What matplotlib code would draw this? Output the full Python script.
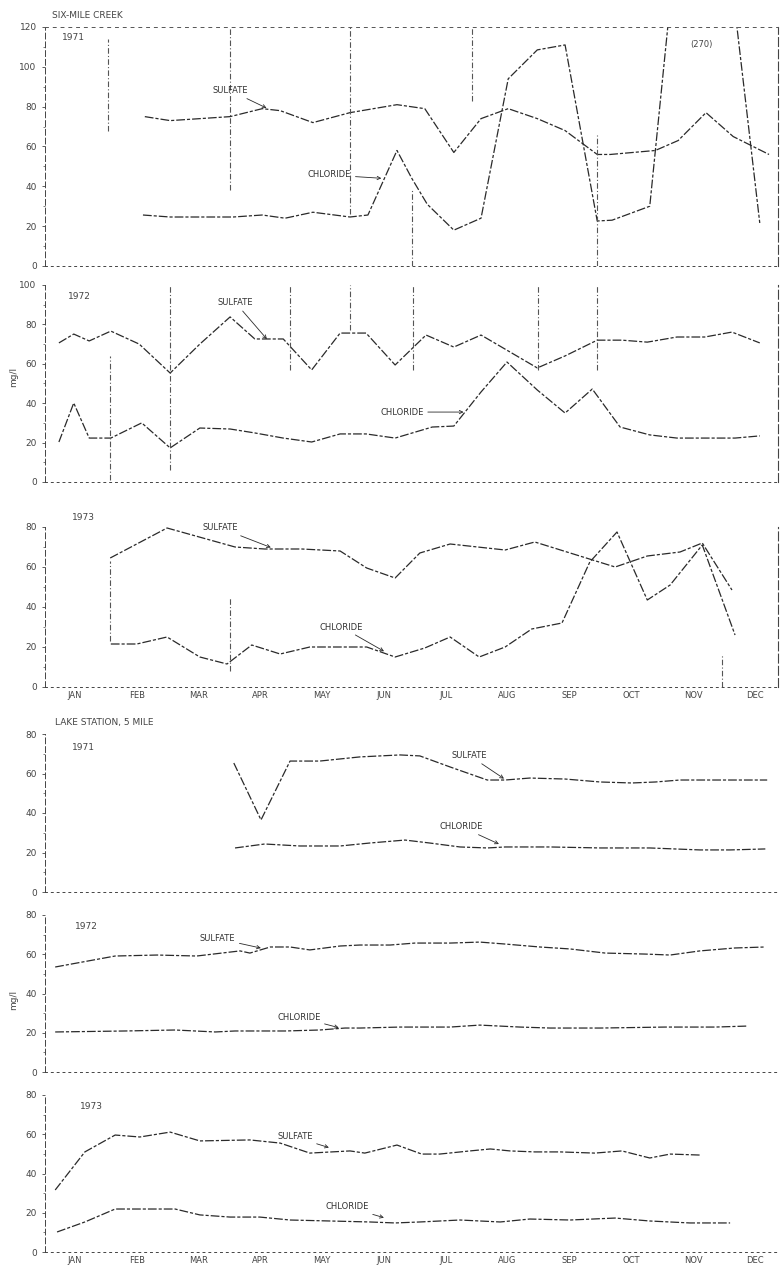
import matplotlib
matplotlib.use("Agg")
import matplotlib.pyplot as plt

# month positions: JAN = 1 ... DEC = 12
months = ["JAN", "FEB", "MAR", "APR", "MAY", "JUN",
          "JUL", "AUG", "SEP", "OCT", "NOV", "DEC"]

# ---- Six-Mile Creek, 1971 ----
smc71_so4_x = [2.13, 2.54, 3.51, 4.03, 4.32, 4.85, 5.45, 6.21, 6.66, 7.13, 7.57,
               8.01, 8.48, 8.93, 9.45, 9.66, 10.39, 10.76, 11.21, 11.65, 12.23]
smc71_so4 = [75, 73, 75, 79, 78, 72, 77, 81, 79, 57, 74,
             79, 74, 68, 56, 56, 58, 63, 77, 65, 56]
smc71_cl_x = [2.10, 2.54, 2.91, 3.56, 4.03, 4.40, 4.85, 5.45, 5.74, 6.21, 6.45,
              6.70, 7.13, 7.57, 8.01, 8.48, 8.93, 9.45, 9.69, 10.30, 11.11, 12.08]
smc71_cl = [25.6, 24.6, 24.6, 24.6, 25.6, 24, 27, 24.6, 25.6, 58, 44,
            31, 18, 24, 94, 108.5, 111, 22.6, 23, 30, 280, 21.6]

# ---- Six-Mile Creek, 1972 ----
smc72_so4_x = [0.74, 0.98, 1.23, 1.58, 2.04, 2.54, 3.02, 3.51, 3.91, 4.37, 4.83, 5.29, 5.71,
               6.18, 6.68, 7.13, 7.57, 8.48, 8.93, 9.45, 9.85, 10.26, 10.74, 11.19, 11.63, 12.08]
smc72_so4 = [70.6, 75.1, 71.6, 76.6, 70, 55.3, 70, 83.8, 72.6, 72.6, 56.9, 75.6, 75.6,
             59.4, 74.6, 68.5, 74.6, 57.9, 64, 72, 72, 71, 73.6, 73.6, 76.1, 70.6]
smc72_cl_x = [0.74, 0.98, 1.23, 1.58, 2.08, 2.54, 3.02, 3.51, 3.91, 4.37, 4.83, 5.29, 5.71, 6.18,
              6.78, 7.13, 7.57, 7.99, 8.48, 8.93, 9.37, 9.82, 10.30, 10.74, 11.19, 11.68, 12.08]
smc72_cl = [20.3, 40.1, 22.3, 22.3, 30, 17.3, 27.4, 26.9, 24.9, 22.3, 20.3, 24.4, 24.4, 22.3,
            27.9, 28.4, 45.7, 60.9, 46.7, 35, 47.2, 27.9, 23.9, 22.3, 22.3, 22.3, 23.4]

# ---- Six-Mile Creek, 1973 ----
smc73_so4_x = [1.57, 2.49, 3.59, 4.07, 4.67, 5.29, 5.72, 6.18, 6.58, 7.07, 7.96, 8.44,
               9.74, 10.26, 10.79, 11.15, 11.63]
smc73_so4 = [64.5, 79.5, 70, 69, 69, 68, 59.5, 54.5, 67, 71.5, 68.5, 72.5,
             60, 65.5, 67.5, 72, 48.5]
smc73_cl_x = [1.58, 2.00, 2.49, 3.02, 3.46, 3.86, 4.32, 4.80, 5.72, 6.18, 6.66, 7.07, 7.54,
              7.96, 8.39, 8.88, 9.33, 9.77, 10.26, 10.63, 11.15, 11.68]
smc73_cl = [21.5, 21.5, 25, 15, 11.5, 21, 16.5, 20, 20, 15, 19.5, 25, 15,
            20, 29, 32, 62.5, 77.5, 43.5, 51, 71, 26]

# ---- Lake Station, 1971 ----
lk71_so4_x = [3.57, 4.01, 4.48, 4.96, 5.61, 6.26, 6.58, 7.07, 7.67, 7.96, 8.36, 8.93,
              9.50, 10.01, 10.39, 10.79, 11.44, 12.20]
lk71_so4 = [65.3, 36.5, 66.3, 66.3, 68.4, 69.4, 68.9, 63.3, 56.7, 56.7, 57.7, 57.2,
            55.7, 55.2, 55.7, 56.7, 56.7, 56.7]
lk71_cl_x = [3.59, 4.07, 4.64, 5.29, 5.77, 6.34, 6.74, 7.23, 7.67, 7.96, 8.69, 9.50,
             10.30, 11.11, 11.60, 12.17]
lk71_cl = [22.3, 24.3, 23.3, 23.3, 24.8, 26.3, 24.8, 22.8, 22.3, 22.8, 22.8, 22.3,
           22.3, 21.3, 21.3, 21.8]

# ---- Lake Station, 1972 ----
lk72_so4_x = [0.68, 1.65, 2.33, 2.97, 3.67, 3.83, 4.16, 4.48, 4.80, 5.29, 5.61, 6.10,
              6.50, 7.07, 7.55, 7.96, 8.52, 9.01, 9.58, 10.22, 10.63, 11.11, 11.68, 12.17]
lk72_so4 = [53.5, 59.1, 59.6, 59.1, 61.7, 60.6, 63.7, 63.7, 62.2, 64.2, 64.7, 64.7,
            65.7, 65.7, 66.2, 65.2, 63.7, 62.7, 60.6, 60.1, 59.6, 61.7, 63.2, 63.7]
lk72_cl_x = [0.68, 1.81, 2.62, 3.27, 3.59, 4.40, 4.96, 5.37, 5.61, 6.26, 7.07, 7.55,
             8.20, 8.69, 9.50, 10.55, 11.36, 11.87]
lk72_cl = [20.4, 20.9, 21.4, 20.4, 20.9, 20.9, 21.4, 22.4, 22.4, 22.9, 22.9, 23.9,
           22.9, 22.4, 22.4, 22.9, 22.9, 23.4]

# ---- Lake Station, 1973 ----
lk73_so4_x = [0.68, 1.16, 1.65, 2.05, 2.54, 3.02, 3.83, 4.32, 4.80, 5.45, 5.69, 6.21,
              6.61, 6.90, 7.39, 7.72, 8.04, 8.44, 8.85, 9.41, 9.85, 10.30, 10.63, 11.11]
lk73_so4 = [31.6, 51, 59.6, 58.6, 61.1, 56.6, 57.1, 55.5, 50.4, 51.5, 50.4, 54.5,
            49.9, 49.9, 51.5, 52.5, 51.5, 51, 51, 50.4, 51.5, 47.9, 49.9, 49.4]
lk73_cl_x = [0.71, 1.16, 1.65, 2.62, 3.02, 3.51, 3.99, 4.48, 5.77, 6.18, 6.58, 7.23,
             7.88, 8.36, 9.01, 9.74, 10.30, 10.95, 11.60]
lk73_cl = [10.2, 15.3, 21.9, 21.9, 18.9, 17.8, 17.8, 16.3, 15.3, 14.8, 15.3, 16.3,
           15.3, 16.8, 16.3, 17.3, 15.8, 14.8, 14.8]

years = ["1971", "1972", "1973", "1971", "1972", "1973"]
ymax = [120, 100, 80, 80, 80, 80]

# faint vertical marks left on the sheet: (panel, month, low value, high value)
sheet_marks = [(0, 1.53, 68, 114), (0, 3.51, 38, 120), (0, 5.45, 26, 120),
               (0, 6.45, 0, 38), (0, 7.42, 83, 120), (0, 9.45, 0, 66),
               (1, 1.57, 1, 64), (1, 2.54, 6, 100), (1, 4.48, 57, 100),
               (1, 5.45, 77, 100), (1, 6.47, 57, 100), (1, 8.49, 57, 100),
               (1, 9.45, 57, 100), (2, 1.57, 23, 63), (2, 3.51, 8, 45),
               (2, 11.47, 0, 16)]

# label anchors (month, value) for text and arrow tips
so4_text = [(3.23, 88), (3.31, 91), (3.07, 79.5), (7.1, 69), (3.02, 68), (4.27, 58.6)]
so4_tip = [(4.12, 79), (4.12, 72), (4.19, 69.5), (7.96, 57), (4.03, 63), (5.13, 53)]
cl_text = [(4.77, 45.7), (5.94, 35.5), (4.96, 30), (6.9, 33), (4.27, 28), (5.05, 23)]
cl_tip = [(5.98, 44), (7.31, 35.5), (6.02, 17.5), (7.88, 24), (5.29, 22.4), (6.02, 17.3)]
year_pos = [(0.79, 114.6), (0.89, 94), (0.95, 84.5), (0.95, 73.4), (1.0, 73.9), (1.08, 73.9)]

series = [
    (smc71_so4_x, smc71_so4, smc71_cl_x, smc71_cl),
    (smc72_so4_x, smc72_so4, smc72_cl_x, smc72_cl),
    (smc73_so4_x, smc73_so4, smc73_cl_x, smc73_cl),
    (lk71_so4_x, lk71_so4, lk71_cl_x, lk71_cl),
    (lk72_so4_x, lk72_so4, lk72_cl_x, lk72_cl),
    (lk73_so4_x, lk73_so4, lk73_cl_x, lk73_cl),
]

W, H = 780, 1271
fig = plt.figure(figsize=(W / 100, H / 100), dpi=100)
fig.patch.set_facecolor("white")

ink = "#2a2a2a"
faded = (0, (7, 1.6, 2.5, 1.6))
# panel pixel extents (top, bottom)
panel_px = [(27, 266), (285, 482), (527, 687), (734, 892), (915, 1072), (1095, 1252)]
left_px, right_px = 45, 778

for i, (top, bot) in enumerate(panel_px):
    ax = fig.add_axes([left_px / W, 1 - bot / H, (right_px - left_px) / W, (bot - top) / H])
    ax.set_xlim(0.515, 12.375)
    ax.set_ylim(0, ymax[i])
    sx, sy, cx, cy = series[i]
    ax.plot(sx, sy, color=ink, lw=0.9, ls=faded)
    ax.plot(cx, cy, color=ink, lw=0.9, ls=faded)

    for p, m, lo, hi in sheet_marks:
        if p == i:
            ax.vlines(m, lo, hi, color="#555555", lw=0.8, ls=(0, (5, 2, 1, 2)))

    ax.set_yticks(range(0, ymax[i] + 1, 20))
    ax.set_yticks(range(10, ymax[i], 20), minor=True)
    ax.tick_params(axis="y", which="major", length=2, width=0.6, pad=4,
                   labelsize=6.5, colors="#444444")
    ax.tick_params(axis="y", which="minor", length=1.5, width=0.6, colors="#666666")
    ax.set_xticks(range(1, 13))
    if i in (2, 5):
        ax.set_xticklabels(months)
        ax.tick_params(axis="x", length=0, pad=3, labelsize=6, colors="#444444")
    else:
        ax.set_xticklabels([])
        ax.tick_params(axis="x", length=0)

    for side in ("top", "right"):
        ax.spines[side].set_visible(False)
    ax.spines["left"].set_linestyle((0, (6, 3)))
    ax.spines["bottom"].set_linestyle((0, (2, 4)))
    for side in ("left", "bottom"):
        ax.spines[side].set_color("#444444")
        ax.spines[side].set_linewidth(0.7)
    if i < 3:
        ax.spines["right"].set_visible(True)
        ax.spines["right"].set_linestyle((0, (8, 3)))
        ax.spines["right"].set_color("#444444")
        ax.spines["right"].set_linewidth(0.8)
    if i == 0:
        ax.spines["top"].set_visible(True)
        ax.spines["top"].set_linestyle((0, (3, 5)))
        ax.spines["top"].set_color("#555555")
        ax.spines["top"].set_linewidth(0.7)

    ax.text(*year_pos[i], years[i], fontsize=6.5, color="#444444", va="center")
    arrow = dict(arrowstyle="->", color=ink, lw=0.6, shrinkA=1, shrinkB=1)
    ax.annotate("SULFATE", xy=so4_tip[i], xytext=so4_text[i], fontsize=6,
                color="#333333", va="center", arrowprops=arrow)
    ax.annotate("CHLORIDE", xy=cl_tip[i], xytext=cl_text[i], fontsize=6,
                color="#333333", va="center", arrowprops=arrow)
    if i == 0:
        ax.text(10.95, 111, "(270)", fontsize=6, color="#444444", va="center")

fig.text(52 / W, 1 - 16 / H, "SIX-MILE CREEK", fontsize=6.5, color="#444444", va="center")
fig.text(55 / W, 1 - 722 / H, "LAKE STATION, 5 MILE", fontsize=6.5, color="#444444", va="center")
fig.text(14 / W, 1 - 377 / H, "mg/l", fontsize=6.5, color="#444444", rotation=90,
         ha="center", va="center")
fig.text(14 / W, 1 - 1000 / H, "mg/l", fontsize=6.5, color="#444444", rotation=90,
         ha="center", va="center")

fig.savefig("out.png", dpi=100, facecolor="white")
